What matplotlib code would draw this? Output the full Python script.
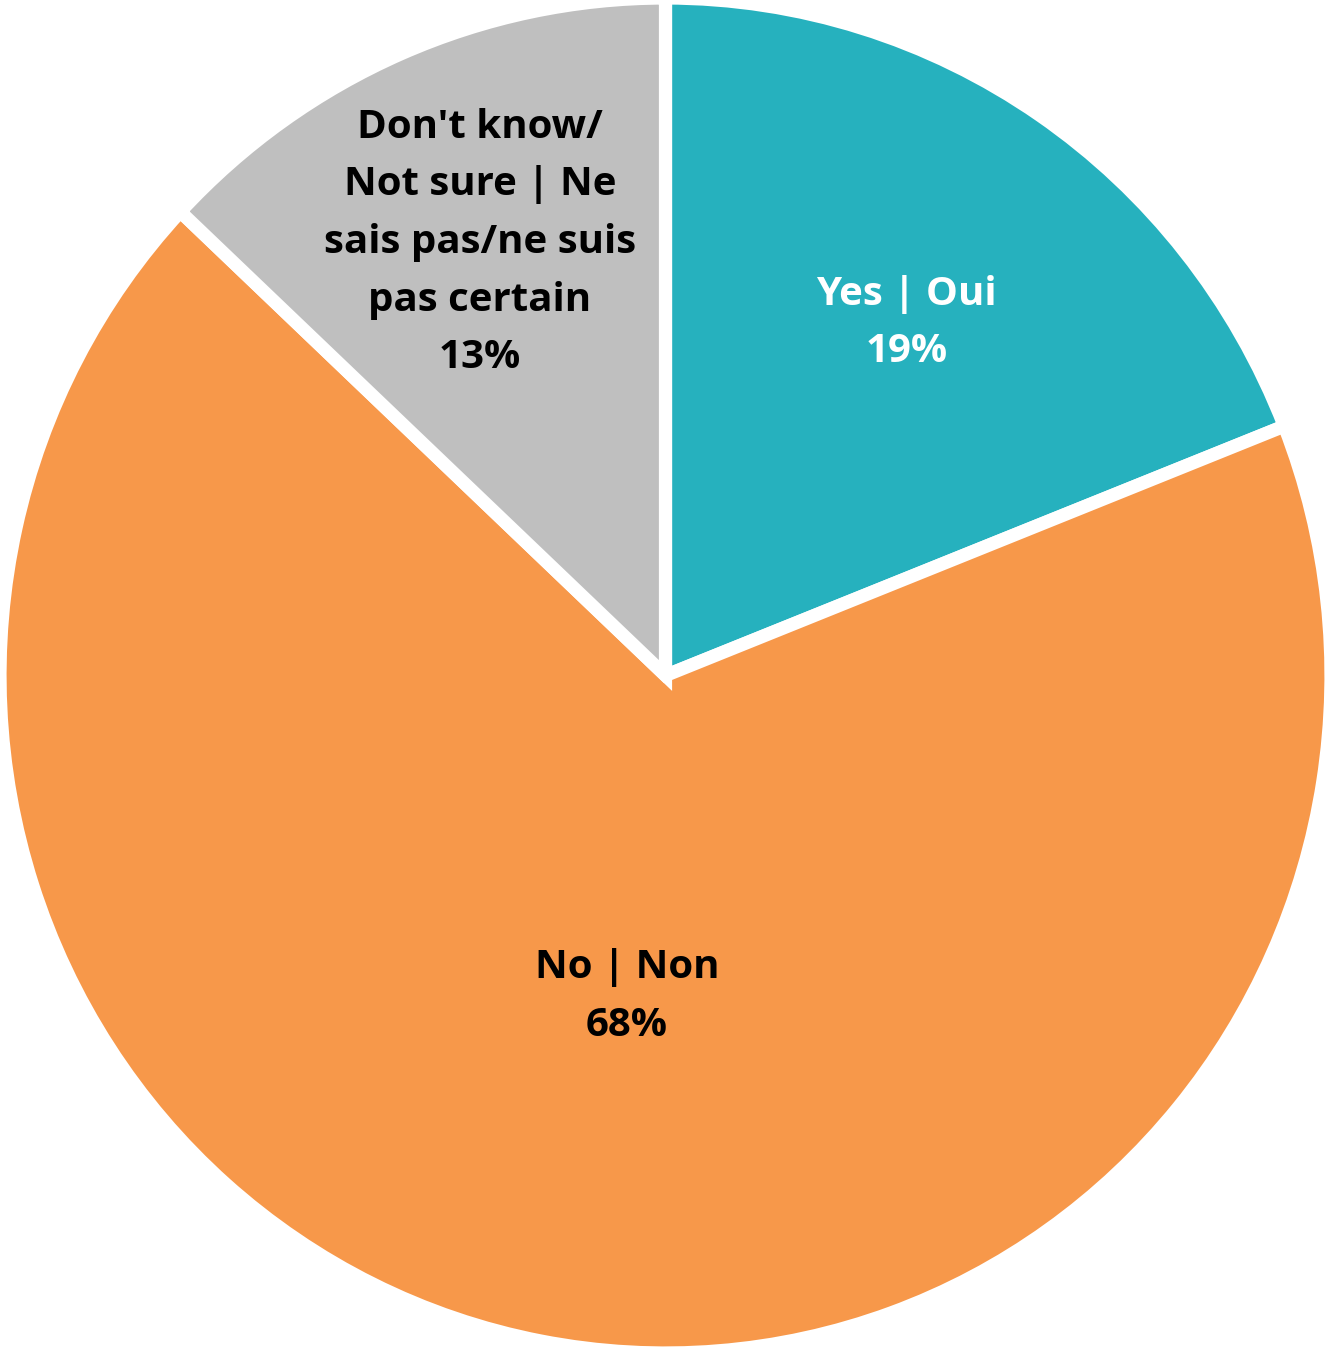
import matplotlib
matplotlib.use("Agg")
import matplotlib.pyplot as plt

categories = ["Yes | Oui", "No | Non", "Don't know/\nNot sure | Ne\nsais pas/ne suis\npas certain"]
values = [19, 68, 13]
pct_labels = ["19%", "68%", "13%"]
colors = ["#26B1BE", "#F7984A", "#BFBFBF"]
text_colors = ["white", "black", "black"]
label_pos = [(0.362, 0.52), (-0.058, -0.474), (-0.279, 0.639)]

W, H = 1329, 1351
fig = plt.figure(figsize=(W / 100, H / 100), dpi=100)
ax = fig.add_axes([0 / W, -2 / H, 1331 / W, 1355 / H])
ax.pie(values, colors=colors, startangle=90, counterclock=False,
       wedgeprops=dict(edgecolor="white", linewidth=9.5, joinstyle="miter"))
ax.set_aspect("auto")
ax.set_xlim(-1.0, 1.0)
ax.set_ylim(-1.0, 1.0)
ax.axis("off")

for cat, pct, (x, y), tc in zip(categories, pct_labels, label_pos, text_colors):
    ax.text(x, y, cat + "\n" + pct, ha="center", va="center", color=tc,
            fontsize=29, fontweight="bold", family=["Open Sans", "DejaVu Sans"],
            linespacing=1.62)

fig.savefig("out.png", dpi=100, facecolor="white")
